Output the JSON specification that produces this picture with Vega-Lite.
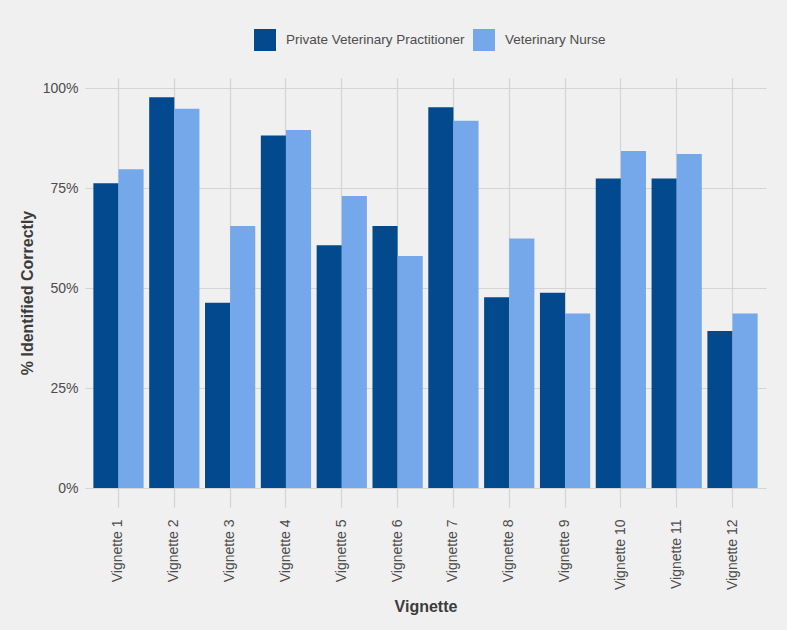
{
  "$schema": "https://vega.github.io/schema/vega-lite/v6.json",
  "width": 681,
  "height": 429,
  "autosize": "none",
  "padding": {"left": 85, "top": 78, "right": 21, "bottom": 123},
  "background": "#F0F0F0",
  "config": {
    "view": {"stroke": null, "fill": "#F0F0F0"},
    "font": "Liberation Sans",
    "axis": {
      "domain": false,
      "ticks": false,
      "gridColor": "#D4D4D4",
      "gridWidth": 1.2,
      "labelFont": "Liberation Sans",
      "labelFontSize": 14,
      "labelColor": "#4D4D4D",
      "titleFont": "Liberation Sans",
      "titleFontSize": 16,
      "titleFontWeight": "bold",
      "titleColor": "#3C3C3C"
    },
    "legend": {
      "labelFont": "Liberation Sans",
      "labelFontSize": 13.5,
      "labelColor": "#4D4D4D",
      "labelLimit": 400
    }
  },
  "data": {
    "values": [
      {"vignette": "Vignette 1", "group": "Private Veterinary Practitioner", "pct": 0.762},
      {"vignette": "Vignette 1", "group": "Veterinary Nurse", "pct": 0.797},
      {"vignette": "Vignette 2", "group": "Private Veterinary Practitioner", "pct": 0.977},
      {"vignette": "Vignette 2", "group": "Veterinary Nurse", "pct": 0.948},
      {"vignette": "Vignette 3", "group": "Private Veterinary Practitioner", "pct": 0.463},
      {"vignette": "Vignette 3", "group": "Veterinary Nurse", "pct": 0.655},
      {"vignette": "Vignette 4", "group": "Private Veterinary Practitioner", "pct": 0.881},
      {"vignette": "Vignette 4", "group": "Veterinary Nurse", "pct": 0.895},
      {"vignette": "Vignette 5", "group": "Private Veterinary Practitioner", "pct": 0.607},
      {"vignette": "Vignette 5", "group": "Veterinary Nurse", "pct": 0.730},
      {"vignette": "Vignette 6", "group": "Private Veterinary Practitioner", "pct": 0.655},
      {"vignette": "Vignette 6", "group": "Veterinary Nurse", "pct": 0.580},
      {"vignette": "Vignette 7", "group": "Private Veterinary Practitioner", "pct": 0.952},
      {"vignette": "Vignette 7", "group": "Veterinary Nurse", "pct": 0.918},
      {"vignette": "Vignette 8", "group": "Private Veterinary Practitioner", "pct": 0.477},
      {"vignette": "Vignette 8", "group": "Veterinary Nurse", "pct": 0.624},
      {"vignette": "Vignette 9", "group": "Private Veterinary Practitioner", "pct": 0.488},
      {"vignette": "Vignette 9", "group": "Veterinary Nurse", "pct": 0.436},
      {"vignette": "Vignette 10", "group": "Private Veterinary Practitioner", "pct": 0.774},
      {"vignette": "Vignette 10", "group": "Veterinary Nurse", "pct": 0.8425},
      {"vignette": "Vignette 11", "group": "Private Veterinary Practitioner", "pct": 0.774},
      {"vignette": "Vignette 11", "group": "Veterinary Nurse", "pct": 0.835},
      {"vignette": "Vignette 12", "group": "Private Veterinary Practitioner", "pct": 0.3925},
      {"vignette": "Vignette 12", "group": "Veterinary Nurse", "pct": 0.436}
    ]
  },
  "mark": {"type": "bar"},
  "encoding": {
    "x": {
      "field": "vignette",
      "type": "nominal",
      "sort": ["Vignette 1", "Vignette 2", "Vignette 3", "Vignette 4", "Vignette 5", "Vignette 6", "Vignette 7", "Vignette 8", "Vignette 9", "Vignette 10", "Vignette 11", "Vignette 12"],
      "scale": {"type": "band", "paddingInner": 0.1, "paddingOuter": 0.15},
      "axis": {
        "title": "Vignette",
        "grid": true,
        "bandPosition": 0.5,
        "labelAngle": 270,
        "labelPadding": 12,
        "titleY": 104,
        "titleBaseline": "alphabetic"
      }
    },
    "xOffset": {"field": "group", "type": "nominal"},
    "y": {
      "field": "pct",
      "type": "quantitative",
      "scale": {"domain": [-0.0475, 1.025], "nice": false, "zero": false},
      "axis": {
        "title": "% Identified Correctly",
        "format": ".0%",
        "values": [0, 0.25, 0.5, 0.75, 1],
        "labelPadding": 7,
        "titleX": -58,
        "titleBaseline": "middle"
      }
    },
    "y2": {"datum": 0},
    "color": {
      "field": "group",
      "type": "nominal",
      "scale": {
        "domain": ["Private Veterinary Practitioner", "Veterinary Nurse"],
        "range": ["#024A8D", "#75A8EB"]
      },
      "legend": {
        "title": null,
        "orient": "none",
        "direction": "horizontal",
        "legendX": 169,
        "legendY": -49,
        "padding": 0,
        "symbolType": "square",
        "symbolSize": 484,
        "symbolStrokeWidth": 0,
        "symbolOpacity": 1,
        "labelOffset": 10,
        "columnPadding": 8
      }
    }
  }
}
